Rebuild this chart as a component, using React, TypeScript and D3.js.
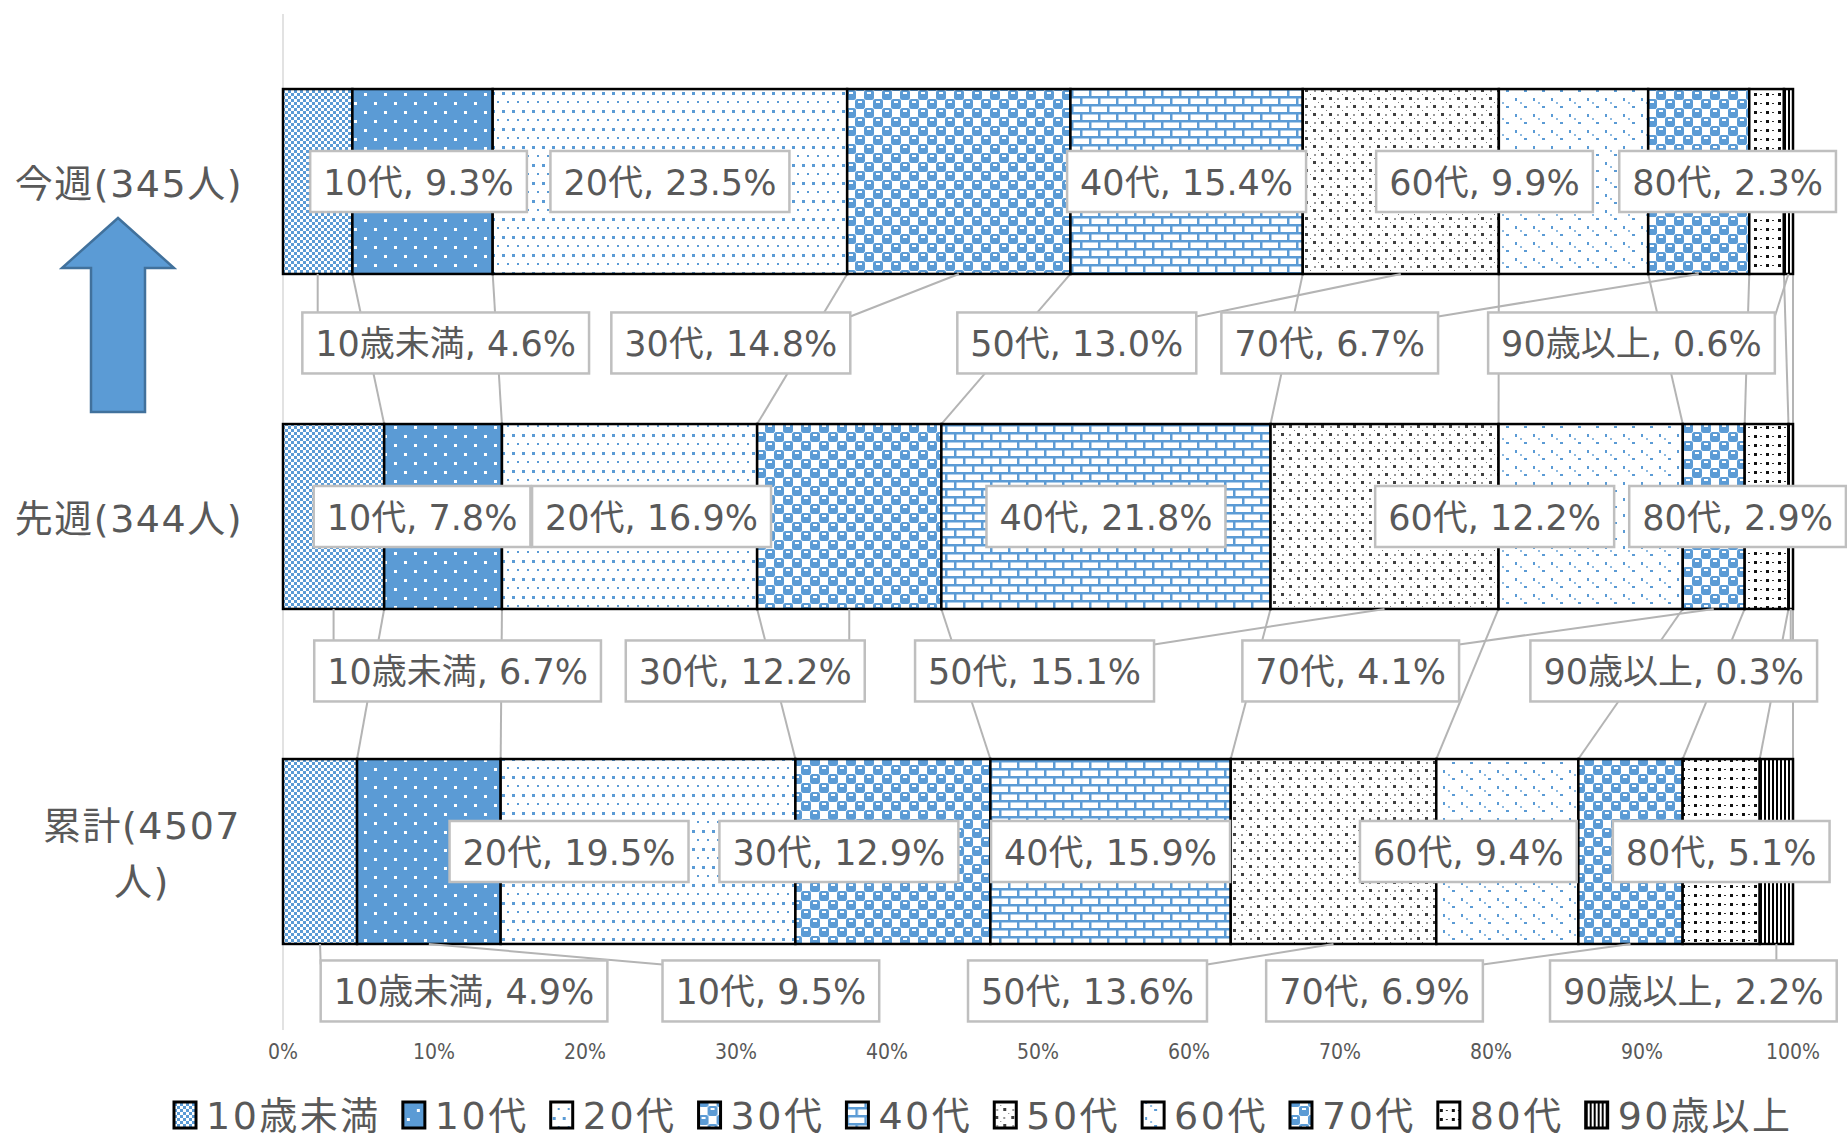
import * as React from "react";
import * as d3 from "d3";

// age groups and shares (%) per period
const categories = ["今週(345人)", "先週(344人)", "累計(4507人)"];
const ages = ["10歳未満", "10代", "20代", "30代", "40代", "50代", "60代", "70代", "80代", "90歳以上"];
const thisWeek = [4.6, 9.3, 23.5, 14.8, 15.4, 13.0, 9.9, 6.7, 2.3, 0.6];
const lastWeek = [6.7, 7.8, 16.9, 12.2, 21.8, 15.1, 12.2, 4.1, 2.9, 0.3];
const cumulative = [4.9, 9.5, 19.5, 12.9, 15.9, 13.6, 9.4, 6.9, 5.1, 2.2];
const rowValues = [thisWeek, lastWeek, cumulative];
const tickValues = [0, 0.1, 0.2, 0.3, 0.4, 0.5, 0.6, 0.7, 0.8, 0.9, 1];

// callouts were dragged by hand in the original: under the bar or inside it, plus a sideways shift
const calloutBelow = [
  [1, 0, 0, 1, 0, 1, 0, 1, 0, 1],
  [1, 0, 0, 1, 0, 1, 0, 1, 0, 1],
  [1, 1, 0, 0, 0, 1, 0, 1, 0, 1],
];
const calloutShift = [
  [128, -4, 0, -228, 0, -324, -89, -369, -39, -157],
  [124, -21, 22, -104, 0, -350, -96, -363, -29, -117],
  [144, 342, -79, -54, 0, -246, -39, -256, 0, -83],
];
const belowOffset = [69, 62, 47];

const W = 1847;
const H = 1137;
const BLUE = "#5B9BD5";
const TXT = "#595959";
const FONT = '"DejaVu Sans", "Noto Sans CJK JP", sans-serif';

const ctx = document.createElement("canvas").getContext("2d");
const textWidth = (s: string, size: number) => {
  ctx.font = `${size}px ${FONT}`;
  return ctx.measureText(s).width;
};

// greedy wrap, character by character (Japanese text)
const wrap = (s: string, size: number, maxW: number) => {
  const lines: string[] = [];
  let cur = "";
  for (const ch of s) {
    if (cur && textWidth(cur + ch, size) > maxW) {
      lines.push(cur);
      cur = ch;
    } else cur += ch;
  }
  lines.push(cur);
  return lines;
};

const Patterns = () => (
  <defs>
    {/* 10歳未満: fine checker */}
    <pattern id="p0" width={6} height={6} patternUnits="userSpaceOnUse">
      <rect width={6} height={6} fill="#fff" />
      <rect width={3} height={3} fill={BLUE} />
      <rect x={3} y={3} width={3} height={3} fill={BLUE} />
    </pattern>
    {/* 10代: blue with white dots */}
    <pattern id="p1" width={20} height={18} patternUnits="userSpaceOnUse">
      <rect width={20} height={18} fill={BLUE} />
      <rect x={4} y={3} width={3} height={3} fill="#fff" />
      <rect x={14} y={12} width={3} height={3} fill="#fff" />
    </pattern>
    {/* 20代: white with blue dots */}
    <pattern id="p2" width={10} height={18} patternUnits="userSpaceOnUse">
      <rect width={10} height={18} fill="#fff" />
      <rect x={2} y={2} width={3} height={3} fill={BLUE} />
      <rect x={7} y={11} width={2} height={2} fill={BLUE} />
    </pattern>
    {/* 30代 / 70代: sphere-like checker */}
    {[3, 7].map((k) => (
      <pattern key={k} id={`p${k}`} width={18} height={18} patternUnits="userSpaceOnUse">
        <rect width={18} height={18} fill="#fff" />
        <rect x={0} y={0} width={10} height={10} rx={2.5} fill={BLUE} />
        <rect x={9} y={9} width={10} height={10} rx={2.5} fill={BLUE} />
        <rect x={-9} y={9} width={10} height={10} rx={2.5} fill={BLUE} />
        <rect x={9} y={-9} width={10} height={10} rx={2.5} fill={BLUE} />
        <rect x={3} y={2} width={4} height={2} fill="#fff" />
        <rect x={12} y={11} width={4} height={2} fill="#fff" />
      </pattern>
    ))}
    {/* 40代: bricks */}
    <pattern id="p4" width={18} height={16} patternUnits="userSpaceOnUse">
      <rect width={18} height={16} fill="#fff" />
      <rect width={18} height={2.5} fill={BLUE} />
      <rect y={8} width={18} height={2.5} fill={BLUE} />
      <rect width={2.5} height={8} fill={BLUE} />
      <rect x={9} y={8} width={2.5} height={8} fill={BLUE} />
    </pattern>
    {/* 50代: grey speckle */}
    <pattern id="p5" width={16} height={16} patternUnits="userSpaceOnUse">
      <rect width={16} height={16} fill="#fff" />
      <rect x={1} y={1} width={3} height={3} fill="#404040" />
      <rect x={9} y={9} width={3} height={3} fill="#404040" />
      <rect x={9} y={2} width={2} height={2} fill="#9a9a9a" />
      <rect x={2} y={10} width={2} height={2} fill="#9a9a9a" />
      <rect x={6} y={6} width={1} height={1} fill="#777" />
      <rect x={14} y={14} width={1} height={1} fill="#777" />
    </pattern>
    {/* 60代: sparse blue marks */}
    <pattern id="p6" width={18} height={16} patternUnits="userSpaceOnUse">
      <rect width={18} height={16} fill="#fff" />
      <rect x={3} y={2} width={2} height={3} fill={BLUE} />
      <rect x={12} y={10} width={3} height={2} fill={BLUE} />
      <rect x={8} y={6} width={2} height={2} fill={BLUE} opacity={0.7} />
    </pattern>
    {/* 80代: black dots */}
    <pattern id="p8" width={12} height={9} patternUnits="userSpaceOnUse">
      <rect width={12} height={9} fill="#fff" />
      <rect x={2} y={3} width={3} height={3} fill="#111" />
      <rect x={8} y={4} width={2} height={1} fill="#333" />
    </pattern>
    {/* 90歳以上: vertical stripes */}
    <pattern id="p9" width={4} height={4} patternUnits="userSpaceOnUse">
      <rect width={4} height={4} fill="#fff" />
      <rect width={2} height={4} fill="#000" />
    </pattern>
  </defs>
);

const App = () => {
  const x = d3.scaleLinear().domain([0, 1]).range([283, 1793]);
  const y = d3
    .scaleBand()
    .domain(categories)
    .range([14, 1019])
    .paddingInner(0.448)
    .paddingOuter(0.224);
  const bw = y.bandwidth();

  const table = categories.map((c, i) => {
    const o: any = { cat: c };
    ages.forEach((a, j) => (o[a] = rowValues[i][j]));
    return o;
  });
  const stacked = d3.stack().keys(ages).offset(d3.stackOffsetExpand)(table);

  const fmt = d3.format(".0%");
  const labelSize = 35;
  const boxH = 61;

  // series lines between neighbouring bars
  const seriesLines = [];
  for (let i = 0; i < categories.length - 1; i++) {
    stacked.forEach((s, j) => {
      seriesLines.push(
        <line
          key={`sl${i}-${j}`}
          x1={x(s[i][1])}
          y1={y(categories[i]) + bw}
          x2={x(s[i + 1][1])}
          y2={y(categories[i + 1])}
          stroke="#b4b4b4"
          strokeWidth={2}
        />
      );
    });
  }

  // callouts
  const leaders = [];
  const boxes = [];
  categories.forEach((c, i) => {
    stacked.forEach((s, j) => {
      const d = s[i];
      const label = `${ages[j]}, ${rowValues[i][j].toFixed(1)}%`;
      const w = textWidth(label, labelSize) + 26;
      const ax = x((d[0] + d[1]) / 2);
      const below = calloutBelow[i][j] === 1;
      const cx = ax + calloutShift[i][j];
      const cy = below ? y(c) + bw + belowOffset[i] : y(c) + bw / 2;
      const left = cx - w / 2;
      const right = cx + w / 2;
      const top = cy - boxH / 2;
      if (below) {
        const ay = y(c) + bw;
        let tx = ax;
        let ty = top;
        if (ax < left) {
          tx = left;
          ty = top + 4;
        } else if (ax > right) {
          tx = right;
          ty = top + 4;
        }
        leaders.push(
          <line key={`ld${i}-${j}`} x1={ax} y1={ay} x2={tx} y2={ty} stroke="#b4b4b4" strokeWidth={2} />
        );
      }
      boxes.push(
        <g key={`lb${i}-${j}`}>
          <rect x={left} y={top} width={w} height={boxH} fill="#fff" stroke="#bfbfbf" strokeWidth={2.5} />
          <text
            x={cx}
            y={cy + 1}
            textAnchor="middle"
            dominantBaseline="central"
            fontSize={labelSize}
            fill={TXT}
          >
            {label}
          </text>
        </g>
      );
    });
  });

  // legend
  const legendSize = 38;
  const legendSpacing = 2.5;
  let lx = 174;
  const legend = ages.map((a, j) => {
    const tw = textWidth(a, legendSize) + legendSpacing * [...a].length;
    const item = (
      <g key={a} transform={`translate(${lx},1115)`}>
        <rect x={0} y={-13} width={22} height={26} fill={`url(#p${j})`} stroke="#000" strokeWidth={3} />
        <text
          x={32}
          y={1}
          dominantBaseline="central"
          fontSize={legendSize}
          letterSpacing={legendSpacing}
          fill={TXT}
        >
          {a}
        </text>
      </g>
    );
    lx += 32 + tw + 22;
    return item;
  });

  const catSize = 38;
  const catSpacing = 1.5;

  return (
    <svg
      width={W}
      height={H}
      style={{ position: "absolute", left: 0, top: 0, background: "#fff" }}
      fontFamily={FONT}
    >
      <Patterns />
      <rect width={W} height={H} fill="#fff" />

      <line x1={x(0)} x2={x(0)} y1={14} y2={1030} stroke="#d9d9d9" strokeWidth={1.5} />

      {seriesLines}

      {stacked.map((s, j) =>
        s.map((d, i) => (
          <rect
            key={`b${i}-${j}`}
            x={x(d[0])}
            y={y(categories[i])}
            width={x(d[1]) - x(d[0])}
            height={bw}
            fill={`url(#p${j})`}
            stroke="#000"
            strokeWidth={2.5}
          />
        ))
      )}

      {leaders}
      {boxes}

      {/* category labels */}
      {categories.map((c) => {
        const lines = wrap(c, catSize, 222);
        const maxW = d3.max(lines, (l) => textWidth(l, catSize) + catSpacing * [...l].length);
        const cy = y(c) + bw / 2 + 2;
        return lines.map((l, k) => (
          <text
            key={`${c}${k}`}
            x={lines.length > 1 ? 241 - maxW / 2 : 243}
            y={cy + (k - (lines.length - 1) / 2) * 56}
            textAnchor={lines.length > 1 ? "middle" : "end"}
            dominantBaseline="central"
            fontSize={catSize}
            letterSpacing={catSpacing}
            fill={TXT}
          >
            {l}
          </text>
        ));
      })}

      {/* x tick labels */}
      {tickValues.map((t) => (
        <text
          key={t}
          x={x(t)}
          y={1052}
          textAnchor="middle"
          dominantBaseline="central"
          fontSize={21}
          fontFamily='"DejaVu Sans Condensed", "DejaVu Sans", sans-serif'
          fill={TXT}
        >
          {fmt(t)}
        </text>
      ))}

      {legend}

      {/* arrow pointing to this week */}
      <polygon
        points="118,218 174,268 145,268 145,412 91,412 91,268 62,268"
        fill={BLUE}
        stroke="#41719c"
        strokeWidth={2.5}
      />
    </svg>
  );
};

export default App;
